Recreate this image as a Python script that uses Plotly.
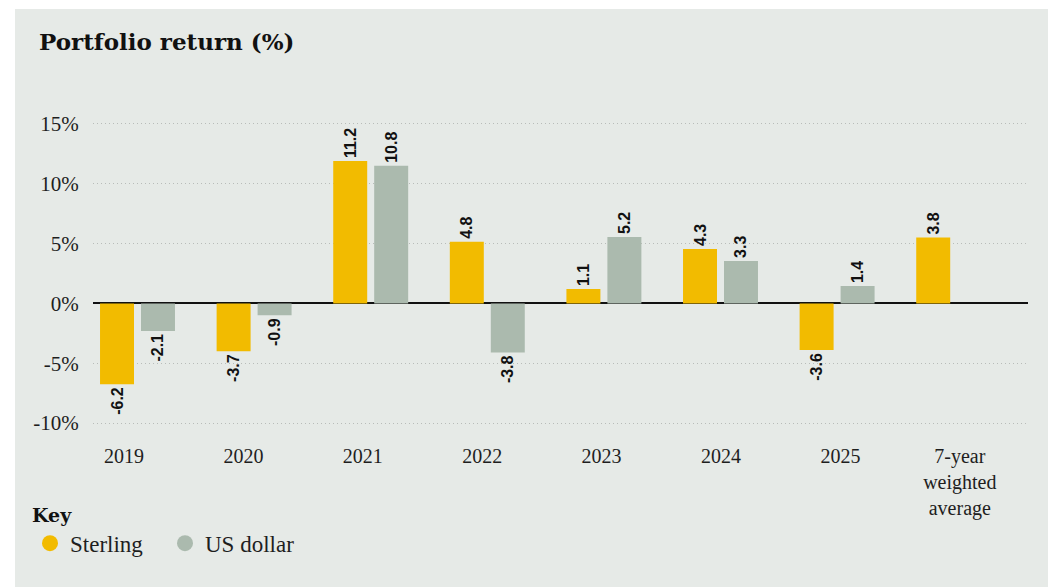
import plotly.graph_objects as go

# ---- data ----
categories = ["2019", "2020", "2021", "2022", "2023", "2024", "2025", "7-year<br>weighted<br>average"]
sterling_bar = [-6.75, -4.0, 11.9, 5.15, 1.2, 4.55, -3.9, 5.5]
usd_bar = [-2.3, -1.0, 11.5, -4.1, 5.55, 3.55, 1.45, None]
sterling_labels = ["-6.2", "-3.7", "11.2", "4.8", "1.1", "4.3", "-3.6", "3.8"]
usd_labels = ["-2.1", "-0.9", "10.8", "-3.8", "5.2", "3.3", "1.4", ""]
y_tickvals = [-10, -5, 0, 5, 10, 15]
y_ticktext = ["-10%", "-5%", "0%", "5%", "10%", "15%"]
series_names = ["Sterling", "US dollar"]

# ---- style ----
STERLING = "#f2bb00"
USD = "#abbaae"
PANEL = "#e6eae7"
TXT = "#1e1e1e"

W, H = 1053, 587
ML, MR, MT, MB = 93, 25, 112, 152
pw = W - ML - MR
ph = H - MT - MB

def px_x(p):
    return (p - ML) / pw

def px_y(p):
    return (H - MB - p) / ph

idx = list(range(len(categories)))

fig = go.Figure()
label_font = dict(family="Liberation Sans", size=16, color="#111111", weight="bold")
fig.add_trace(go.Bar(x=idx, y=sterling_bar, text=sterling_labels, name=series_names[0],
                     marker=dict(color=STERLING, line=dict(width=0)),
                     textposition="outside", textangle=-90, textfont=label_font,
                     constraintext="none", cliponaxis=False, showlegend=False,
                     hoverinfo="skip"))
fig.add_trace(go.Bar(x=idx, y=usd_bar, text=usd_labels, name=series_names[1],
                     marker=dict(color=USD, line=dict(width=0)),
                     textposition="outside", textangle=-90, textfont=label_font,
                     constraintext="none", cliponaxis=False, showlegend=False,
                     hoverinfo="skip"))
# hidden trace carrying the category axis labels
fig.add_trace(go.Scatter(x=idx, y=[None] * len(idx), xaxis="x2", mode="markers",
                         marker=dict(opacity=0), showlegend=False, hoverinfo="skip"))
# legend entries (circles)
for nm, col in zip(series_names, [STERLING, USD]):
    fig.add_trace(go.Scatter(x=[None], y=[None], mode="markers", name=nm,
                             marker=dict(symbol="circle", size=19, color=col)))

# background panel
fig.add_shape(type="rect", xref="paper", yref="paper",
              x0=px_x(15), x1=px_x(1048), y0=px_y(588), y1=px_y(9),
              fillcolor=PANEL, line=dict(width=0), layer="below")

fig.update_layout(
    width=W, height=H,
    margin=dict(l=ML, r=MR, t=MT, b=MB),
    paper_bgcolor="white", plot_bgcolor="rgba(0,0,0,0)",
    barmode="group", bargap=0.297, bargroupgap=0.171,
    title=dict(text="Portfolio return (%)", x=39 / W, xanchor="left", xref="container",
               y=1 - 42 / H, yanchor="middle", yref="container",
               font=dict(family="DejaVu Serif", size=23, color="#111111", weight="bold")),
    xaxis=dict(range=[(ML - 137.5) / 116.6, (W - MR - 137.5) / 116.6],
               showticklabels=False, showgrid=False, zeroline=False, ticks=""),
    xaxis2=dict(overlaying="x", side="bottom", anchor="y",
                range=[(ML - 124) / 119.4, (W - MR - 124) / 119.4],
                tickmode="array", tickvals=idx, ticktext=categories,
                showgrid=False, zeroline=False, ticks="outside", ticklen=3,
                tickcolor="rgba(0,0,0,0)",
                tickfont=dict(family="Liberation Serif", size=20, color=TXT)),
    yaxis=dict(range=[-11, 16], tickmode="array", tickvals=y_tickvals, ticktext=y_ticktext,
               showgrid=True, gridcolor="#b8bcb9", gridwidth=1, griddash="1px,3px",
               zeroline=True, zerolinecolor="#111111", zerolinewidth=2,
               ticks="outside", ticklen=9, tickcolor="rgba(0,0,0,0)",
               tickfont=dict(family="Liberation Serif", size=21, color=TXT),
               showline=False),
    legend=dict(orientation="h", x=px_x(30), xanchor="left", y=px_y(497), yanchor="top",
                bgcolor="rgba(0,0,0,0)",
                title=dict(text="<b>Key</b>", side="top",
                           font=dict(family="DejaVu Serif", size=19, color="#111111")),
                font=dict(family="Liberation Serif", size=23, color=TXT),
                entrywidth=90, traceorder="normal", itemclick=False),
    showlegend=True,
)

fig.write_html("out.html", config={"displayModeBar": False},
               post_script="document.body.style.margin='0';")
